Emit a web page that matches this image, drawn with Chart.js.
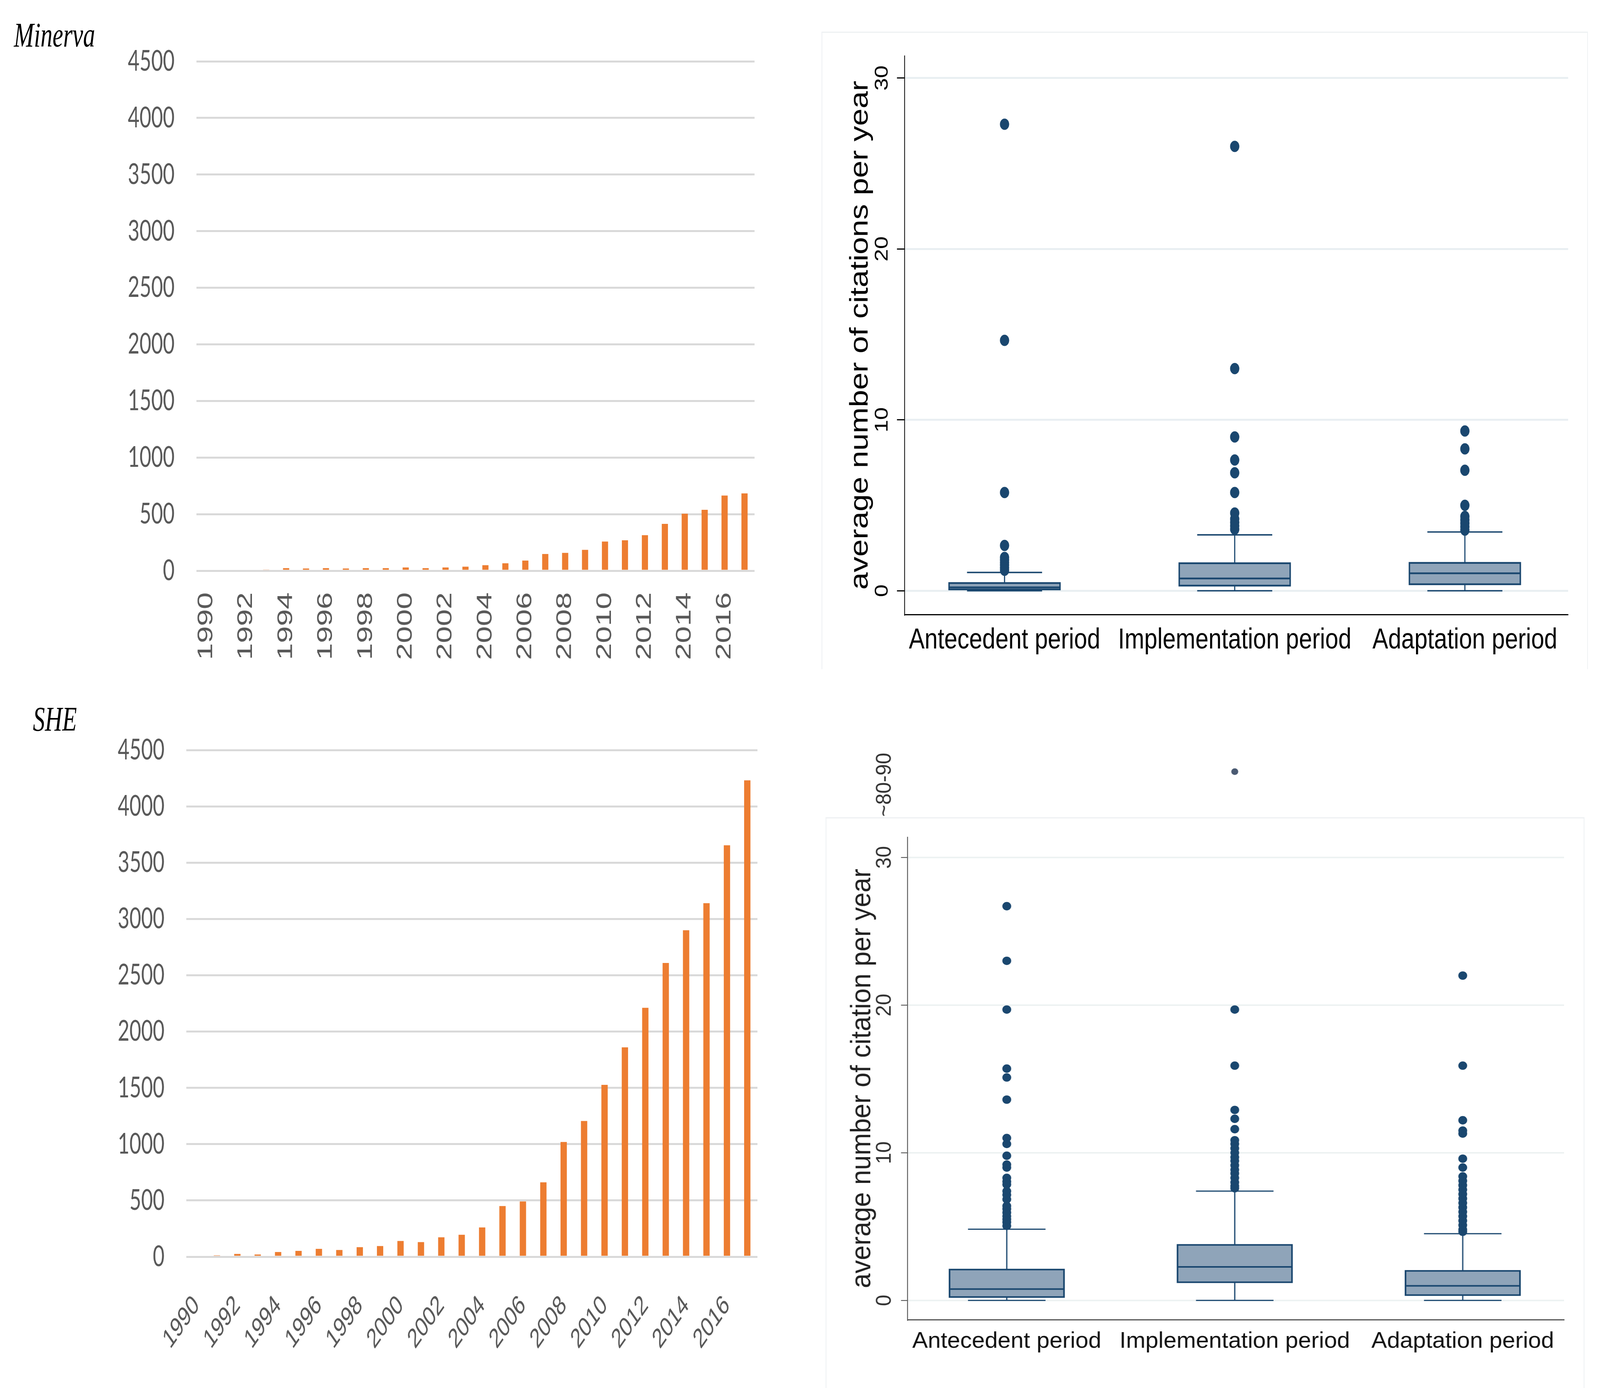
<!DOCTYPE html>
<html>
<head>
<meta charset="utf-8">
<script src="https://cdn.jsdelivr.net/npm/chart.js"></script>
<style>
  html, body { margin: 0; padding: 0; background: #fff; overflow: hidden; }
  #stage { position: absolute; left: 0; top: 0; width: 5874px; height: 3553px; transform-origin: 0 0; }
  .panel { position: absolute; }
  .stretch { transform-origin: 0 0; }
  .label { position: absolute; font-family: 'Liberation Serif', serif; font-style: italic;
           font-size: 88px; line-height: 88px; color: #000; white-space: nowrap; }
  .frame { position: absolute; border: 3px solid #eef1f3; border-bottom: none; box-sizing: border-box; }
</style>
</head>
<body>
<div id="stage">
<div class="label" style="left:51px;top:46px">Minerva</div>
<div class="label" style="left:121px;top:1797px">SHE</div>

<div class="frame" style="left:3016px;top:81px;width:2814px;height:1632px"></div>
<div class="frame" style="left:3031px;top:2092px;width:2786px;height:1461px"></div>

<div class="panel" style="left:0;top:0"><canvas id="minerva" width="2900" height="1750"></canvas></div>
<div class="panel" style="left:0;top:1750px"><canvas id="she" width="2900" height="1803"></canvas></div>
<div class="panel stretch" style="left:3000px;top:0;transform:scaleX(1.17)"><canvas id="citesTop" width="2450" height="1760"></canvas></div>
<div class="panel stretch" style="left:3000px;top:1850px;transform:scaleX(1.5)"><canvas id="citesBottom" width="1910" height="1703"></canvas></div>
</div>

<script>
// Publications per year (bar charts)
const years = ['1990', '1991', '1992', '1993', '1994', '1995', '1996', '1997', '1998', '1999',
  '2000', '2001', '2002', '2003', '2004', '2005', '2006', '2007', '2008', '2009',
  '2010', '2011', '2012', '2013', '2014', '2015', '2016', '2017'];
const minervaPapers = [0, 0, 0, 10, 23, 20, 23, 20, 23, 23, 29, 23, 29, 36, 49, 66, 90, 148,
  158, 185, 258, 269, 314, 414, 504, 538, 664, 683];
const shePapers = [0, 12, 25, 20, 42, 52, 70, 60, 85, 95, 140, 130, 173, 195, 260, 450, 491, 661,
  1019, 1206, 1527, 1860, 2211, 2609, 2900, 3140, 3654, 4231];
const paperTicks = [0, 500, 1000, 1500, 2000, 2500, 3000, 3500, 4000, 4500];

// Average citations per year by period (box plots)
const periods = ['Antecedent period', 'Implementation period', 'Adaptation period'];
const citeTicks = [0, 10, 20, 30];

const topQ1 = [0.08, 0.30, 0.38];
const topMedian = [0.20, 0.72, 1.02];
const topQ3 = [0.45, 1.61, 1.63];
const topLowerWhisker = [0, 0, 0];
const topUpperWhisker = [1.07, 3.27, 3.44];
const topOutliers = [
  [1.2, 1.35, 1.5, 1.65, 1.8, 1.95, 2.65, 5.75, 14.65, 27.3],
  [3.6, 3.8, 4.0, 4.2, 4.55, 5.75, 6.9, 7.65, 9.0, 13.0, 26.0],
  [3.55, 3.75, 3.95, 4.15, 4.35, 5.0, 7.05, 8.3, 9.35],
];

const bottomQ1 = [0.23, 1.23, 0.36];
const bottomMedian = [0.77, 2.27, 0.99];
const bottomQ3 = [2.09, 3.76, 2.0];
const bottomLowerWhisker = [0, 0, 0];
const bottomUpperWhisker = [4.82, 7.4, 4.52];
const bottomOutliers = [
  [5.05, 5.3, 5.5, 5.7, 5.95, 6.2, 6.4, 6.85, 7.15, 7.4, 7.85, 8.05, 8.3, 9.0, 9.2, 9.8, 10.6,
   11.0, 13.6, 15.1, 15.7, 19.7, 23.0, 26.7],
  [7.6, 7.75, 8.0, 8.3, 8.6, 8.85, 9.15, 9.45, 9.7, 10.0, 10.3, 10.6, 10.85, 11.6, 12.3, 12.9,
   15.9, 19.7],
  [4.65, 4.8, 5.1, 5.4, 5.7, 6.0, 6.3, 6.6, 6.9, 7.2, 7.5, 7.8, 8.1, 8.4, 9.0, 9.6, 11.3, 11.5,
   12.2, 15.9, 22.0],
];
// one far outlier drawn on a broken axis above the main plot
const bottomFarOutliers = [[], [87], []];
const farBandLabel = '~80-90';
const farBandTick = 85;

const ORANGE = '#ed7d31';
const TICK_GREY = '#595959';
const NAVY = '#1a476f';
const BOX_FILL = '#8fa4b9';

// the capture is at most 4096 px wide: fit the 5874 x 3553 layout into the window
const stage = document.getElementById('stage');
const fitX = Math.min(window.innerWidth, 5874) / 5874;
const fitY = Math.min(window.innerHeight, 3553) / 3553;
stage.style.transform = `scale(${fitX}, ${fitY})`;

Chart.defaults.font.family = "'Liberation Sans', Arial, sans-serif";

function fixedTicks(values) {
  return (scale) => { scale.ticks = values.map((v) => ({ value: v })); };
}

function outlierPoints(lists) {
  return lists.flatMap((vals, i) => vals.map((v) => ({ x: i + 1, y: v })));
}

// Draws whiskers, boxes and medians from the summary arrays through the chart's scales.
function boxPlugin(stats) {
  return {
    id: 'boxes',
    beforeDatasetsDraw(chart) {
      const xs = chart.scales.x;
      const ys = chart.scales.y;
      const ctx = chart.ctx;
      ctx.save();
      ctx.strokeStyle = stats.stroke;
      stats.q1.forEach((q1, i) => {
        const c = xs.getPixelForValue(i + 1);
        const hw = xs.getPixelForValue(i + 1 + stats.halfWidth) - c;
        const cw = xs.getPixelForValue(i + 1 + stats.capHalf) - c;
        const y1 = ys.getPixelForValue(q1);
        const y3 = ys.getPixelForValue(stats.q3[i]);
        const ym = ys.getPixelForValue(stats.median[i]);
        const ylo = ys.getPixelForValue(stats.lower[i]);
        const yhi = ys.getPixelForValue(stats.upper[i]);

        ctx.lineWidth = stats.whiskerWidth;
        ctx.beginPath();
        ctx.moveTo(c, y3); ctx.lineTo(c, yhi);
        ctx.moveTo(c, y1); ctx.lineTo(c, ylo);
        ctx.moveTo(c - cw, yhi); ctx.lineTo(c + cw, yhi);
        ctx.moveTo(c - cw, ylo); ctx.lineTo(c + cw, ylo);
        ctx.stroke();

        ctx.fillStyle = stats.fill;
        ctx.fillRect(c - hw, y3, 2 * hw, y1 - y3);
        ctx.lineWidth = stats.boxWidth;
        ctx.strokeRect(c - hw, y3, 2 * hw, y1 - y3);
        ctx.beginPath();
        ctx.moveTo(c - hw, ym); ctx.lineTo(c + hw, ym);
        ctx.stroke();
      });
      ctx.restore();
    },
  };
}

const common = {
  responsive: false,
  animation: false,
  devicePixelRatio: 1,
  events: [],
  plugins: { legend: { display: false }, tooltip: { enabled: false } },
};

function paperChart(canvasId, values, opts) {
  return new Chart(document.getElementById(canvasId), {
    type: 'bar',
    data: {
      labels: years,
      datasets: [{ data: values, backgroundColor: ORANGE, barPercentage: 0.31, categoryPercentage: 1 }],
    },
    options: {
      ...common,
      layout: { padding: opts.padding },
      scales: {
        x: {
          grid: { display: false, drawTicks: false },
          border: { display: false },
          afterFit: (s) => { s.height = opts.xHeight; },
          ticks: {
            autoSkip: false, minRotation: opts.rotation, maxRotation: opts.rotation,
            padding: opts.xPad, color: TICK_GREY,
            font: { family: "'Liberation Sans', Arial, sans-serif", size: opts.xFont },
            callback: (v, i) => (i % 2 === 0 ? years[i] : ''),
          },
        },
        y: {
          min: 0, max: 4500,
          afterBuildTicks: fixedTicks(paperTicks),
          afterFit: (s) => { s.width = opts.yWidth; },
          grid: { color: '#d9d9d9', lineWidth: 5, drawTicks: false },
          border: { display: false },
          ticks: {
            padding: 80, color: TICK_GREY, font: { family: 'Lato, sans-serif', size: 74 },
            callback: (v) => String(v),
          },
        },
      },
    },
  });
}

paperChart('minerva', minervaPapers, {
  padding: { left: 300, right: 130, top: 157, bottom: 39 },
  xHeight: 250, yWidth: 421, rotation: 90, xPad: 55, xFont: 78,
});

paperChart('she', shePapers, {
  padding: { left: 300, right: 119, top: 170, bottom: 36 },
  xHeight: 300, yWidth: 384, rotation: 45, xPad: 84, xFont: 70,
});

// Top box plot
new Chart(document.getElementById('citesTop'), {
  type: 'scatter',
  data: {
    datasets: [{
      data: outlierPoints(topOutliers),
      backgroundColor: NAVY, borderWidth: 0, pointRadius: 14.5,
    }],
  },
  options: {
    ...common,
    layout: { padding: { left: 20, right: 93.6, top: 143, bottom: 37 } },
    scales: {
      x: {
        type: 'linear', min: 0.5662, max: 3.4486,
        afterBuildTicks: fixedTicks([1, 2, 3]),
        afterFit: (s) => { s.height = 150; },
        grid: { display: false, drawTicks: false },
        border: { display: true, color: '#000', width: 3 },
        ticks: {
          autoSkip: false, minRotation: 0, maxRotation: 0, padding: 22, color: '#000',
          font: { size: 74 }, callback: (v, i) => periods[i],
        },
      },
      y: {
        min: -1.39, max: 31.3,
        afterBuildTicks: fixedTicks(citeTicks),
        afterFit: (s) => { s.width = 254.7; },
        grid: { color: '#e9eff2', lineWidth: 5, tickColor: '#000', tickWidth: 3, tickLength: 24.4 },
        border: { display: true, color: '#000', width: 2.6 },
        ticks: {
          minRotation: 90, maxRotation: 90, crossAlign: 'center', padding: 13.3,
          color: '#000', font: { size: 58 },
        },
        title: {
          display: true, text: 'average number of citations per year', color: '#000',
          font: { size: 80 }, padding: { top: 68, bottom: 0 },
        },
      },
    },
  },
  plugins: [boxPlugin({
    q1: topQ1, median: topMedian, q3: topQ3, lower: topLowerWhisker, upper: topUpperWhisker,
    halfWidth: 0.241, capHalf: 0.163, fill: BOX_FILL, stroke: NAVY, boxWidth: 4.5, whiskerWidth: 3.6,
  })],
});

// Bottom box plot, with a small stacked axis on top for the far outlier
new Chart(document.getElementById('citesBottom'), {
  type: 'scatter',
  data: {
    datasets: [
      { data: outlierPoints(bottomOutliers), yAxisID: 'y', backgroundColor: NAVY, borderWidth: 0, pointRadius: 10.8 },
      { data: outlierPoints(bottomFarOutliers), yAxisID: 'yTop', backgroundColor: '#4a5a72', borderWidth: 0, pointRadius: 8.5 },
    ],
  },
  options: {
    ...common,
    layout: { padding: { left: 10, right: 82, top: 50, bottom: 44.3 } },
    scales: {
      x: {
        type: 'linear', min: 0.5646, max: 3.4444,
        afterBuildTicks: fixedTicks([1, 2, 3]),
        afterFit: (s) => { s.height = 130; },
        grid: { display: false, drawTicks: false },
        border: { display: true, color: '#555', width: 3 },
        ticks: {
          autoSkip: false, minRotation: 0, maxRotation: 0, padding: 21, color: '#111',
          font: { size: 57 }, callback: (v, i) => periods[i],
        },
      },
      yTop: {
        type: 'linear', position: 'left', stack: 'cites', stackWeight: 0.19636, weight: 1,
        min: 77, max: 91.5,
        afterBuildTicks: fixedTicks([farBandTick]),
        afterFit: (s) => { s.width = 211.1; },
        grid: { display: false, drawTicks: true, tickLength: 15.9 },
        border: { display: false },
        ticks: {
          minRotation: 90, maxRotation: 90, crossAlign: 'center', padding: -41.8,
          color: '#333', font: { size: 52 }, callback: () => farBandLabel,
        },
      },
      y: {
        type: 'linear', position: 'left', stack: 'cites', stackWeight: 1, weight: 0,
        min: -1.32, max: 31.38,
        afterBuildTicks: fixedTicks(citeTicks),
        afterFit: (s) => { s.width = 211.1; },
        grid: { color: '#edf2f2', lineWidth: 4, tickColor: '#555', tickWidth: 2.2, tickLength: 15.9 },
        border: { display: true, color: '#555', width: 2.2 },
        ticks: {
          minRotation: 90, maxRotation: 90, crossAlign: 'center', padding: 11,
          color: '#333', font: { size: 52 },
        },
        title: {
          display: true, text: 'average number of citation per year', color: '#222',
          font: { size: 68 }, padding: { top: 60.5, bottom: 0 },
        },
      },
    },
  },
  plugins: [boxPlugin({
    q1: bottomQ1, median: bottomMedian, q3: bottomQ3, lower: bottomLowerWhisker, upper: bottomUpperWhisker,
    halfWidth: 0.251, capHalf: 0.170, fill: BOX_FILL, stroke: NAVY, boxWidth: 4, whiskerWidth: 3,
  })],
});
</script>
</body>
</html>
